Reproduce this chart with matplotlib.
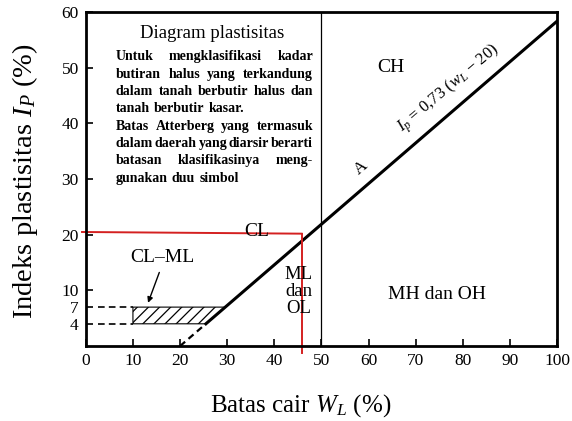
import numpy as np
import matplotlib
matplotlib.use('Agg')
import matplotlib.pyplot as plt
from matplotlib.patches import Polygon

plt.rcParams['font.family'] = ['Liberation Serif', 'DejaVu Serif']
plt.rcParams['mathtext.fontset'] = 'custom'
plt.rcParams['mathtext.rm'] = 'Liberation Serif'
plt.rcParams['mathtext.it'] = 'Liberation Serif:italic'
plt.rcParams['mathtext.bf'] = 'Liberation Serif:bold'
plt.rcParams['hatch.linewidth'] = 0.9

# data
x_ticks = [0, 10, 20, 30, 40, 50, 60, 70, 80, 90, 100]
y_ticks = [4, 7, 10, 20, 30, 40, 50, 60]
a_slope = 0.73
a_offset = 20
hatch_low, hatch_high = 4, 7
hatch_left = 10
u_line_x = 50
red_point = (45.8, 20.2)

zone_labels = {
    'CH': (64.8, 50.0),
    'CL': (36.3, 20.6),
    'MH dan OH': (74.5, 9.3),
}
note_title = 'Diagram plastisitas'
note_lines = [
    'Untuk mengklasifikasi kadar',
    'butiran halus yang terkandung',
    'dalam tanah berbutir halus dan',
    'tanah berbutir kasar.',
    'Batas Atterberg yang termasuk',
    'dalam daerah yang diarsir berarti',
    'batasan klasifikasinya meng-',
    'gunakan duu simbol',
]
# lines that end a paragraph are not stretched
note_last = [3, 7]

fig = plt.figure(figsize=(5.72, 4.21), dpi=100)
ax = fig.add_axes([0.150, 0.178, 0.824, 0.793])
ax.set_xlim(0, 100)
ax.set_ylim(0, 60)

# A-line
def a_line(w):
    return a_slope * (w - a_offset)

w_start = a_offset + hatch_low / a_slope
ax.plot([a_offset, w_start], [0, hatch_low], color='black', lw=1.6, ls=(0, (3, 2)))
ax.plot([w_start, 100], [hatch_low, a_line(100)], color='black', lw=2.2)

# U / 50 line
ax.plot([u_line_x, u_line_x], [0, 60], color='black', lw=0.9)

# hatched CL-ML zone
w_top = a_offset + hatch_high / a_slope
zone = Polygon([(hatch_left, hatch_low), (hatch_left, hatch_high), (w_top, hatch_high), (w_start, hatch_low)],
               closed=True, facecolor='none', edgecolor='black', lw=0.8, hatch='///')
ax.add_patch(zone)
ax.plot([2.5, hatch_left], [hatch_high, hatch_high], color='black', lw=1.2, ls=(0, (4, 2.5)))
ax.plot([2.5, hatch_left], [hatch_low, hatch_low], color='black', lw=1.2, ls=(0, (4, 2.5)))

# red reading lines
ax.plot([-0.8, red_point[0]], [red_point[1] + 0.3, red_point[1]], color='#d42020', lw=1.4, clip_on=False)
ax.plot([red_point[0], red_point[0]], [red_point[1], -1.3], color='#d42020', lw=1.4, clip_on=False)

# zone labels
for name, (wx, wy) in zone_labels.items():
    ax.text(wx, wy, name, ha='center', va='center', fontsize=14)
ax.text(45.2, 9.8, 'ML\ndan\nOL', ha='center', va='center', fontsize=13.5, linespacing=1.0)
ax.text(16.3, 16.0, 'CL\u2013ML', ha='center', va='center', fontsize=14)
ax.annotate('', xy=(13.0, 7.3), xytext=(15.8, 13.7),
            arrowprops=dict(arrowstyle='-|>', color='black', lw=1.0, mutation_scale=8))

ax.text(58.3, 32.0, 'A', ha='center', va='center', fontsize=12.5, rotation=40)
ax.text(77.0, 46.2, '$I_p$ = 0,73 ($w_L$ \u2212 20)',
        ha='center', va='center', fontsize=12, rotation=40)

# note box text, justified between left and right edges
note_left, note_right = 6.4, 48.2
ax.text(26.8, 56.2, note_title, ha='center', va='center', fontsize=13.5)
renderer = fig.canvas.get_renderer()
to_data = ax.transData.inverted()
for i, line in enumerate(note_lines):
    y = 52.0 - i * 3.12
    words = line.split()
    texts = [ax.text(0, y, w, ha='left', va='center', fontsize=10, fontweight='bold') for w in words]
    widths = []
    for t in texts:
        bb = t.get_window_extent(renderer)
        x0 = to_data.transform((bb.x0, bb.y0))[0]
        x1 = to_data.transform((bb.x1, bb.y0))[0]
        widths.append(x1 - x0)
    if i in note_last or len(words) == 1:
        gap = to_data.transform((4.0, 0))[0] - to_data.transform((0, 0))[0]
    else:
        gap = (note_right - note_left - sum(widths)) / (len(words) - 1)
    x = note_left
    for t, w in zip(texts, widths):
        t.set_x(x)
        x += w + gap

# axes
ax.set_xticks(x_ticks)
ax.set_yticks(y_ticks)
ax.tick_params(direction='in', length=5, width=1.2, labelsize=12.5, pad=5)
for s in ax.spines.values():
    s.set_linewidth(2.0)

ax.set_xlabel(r'Batas cair $W_L$ (%)', fontsize=18)
ax.set_ylabel(r'Indeks plastisitas $I_P$ (%)', fontsize=20.5)
ax.xaxis.set_label_coords(0.455, -0.138)
ax.yaxis.set_label_coords(-0.097, 0.494)

plt.savefig('out.png', dpi=100)
